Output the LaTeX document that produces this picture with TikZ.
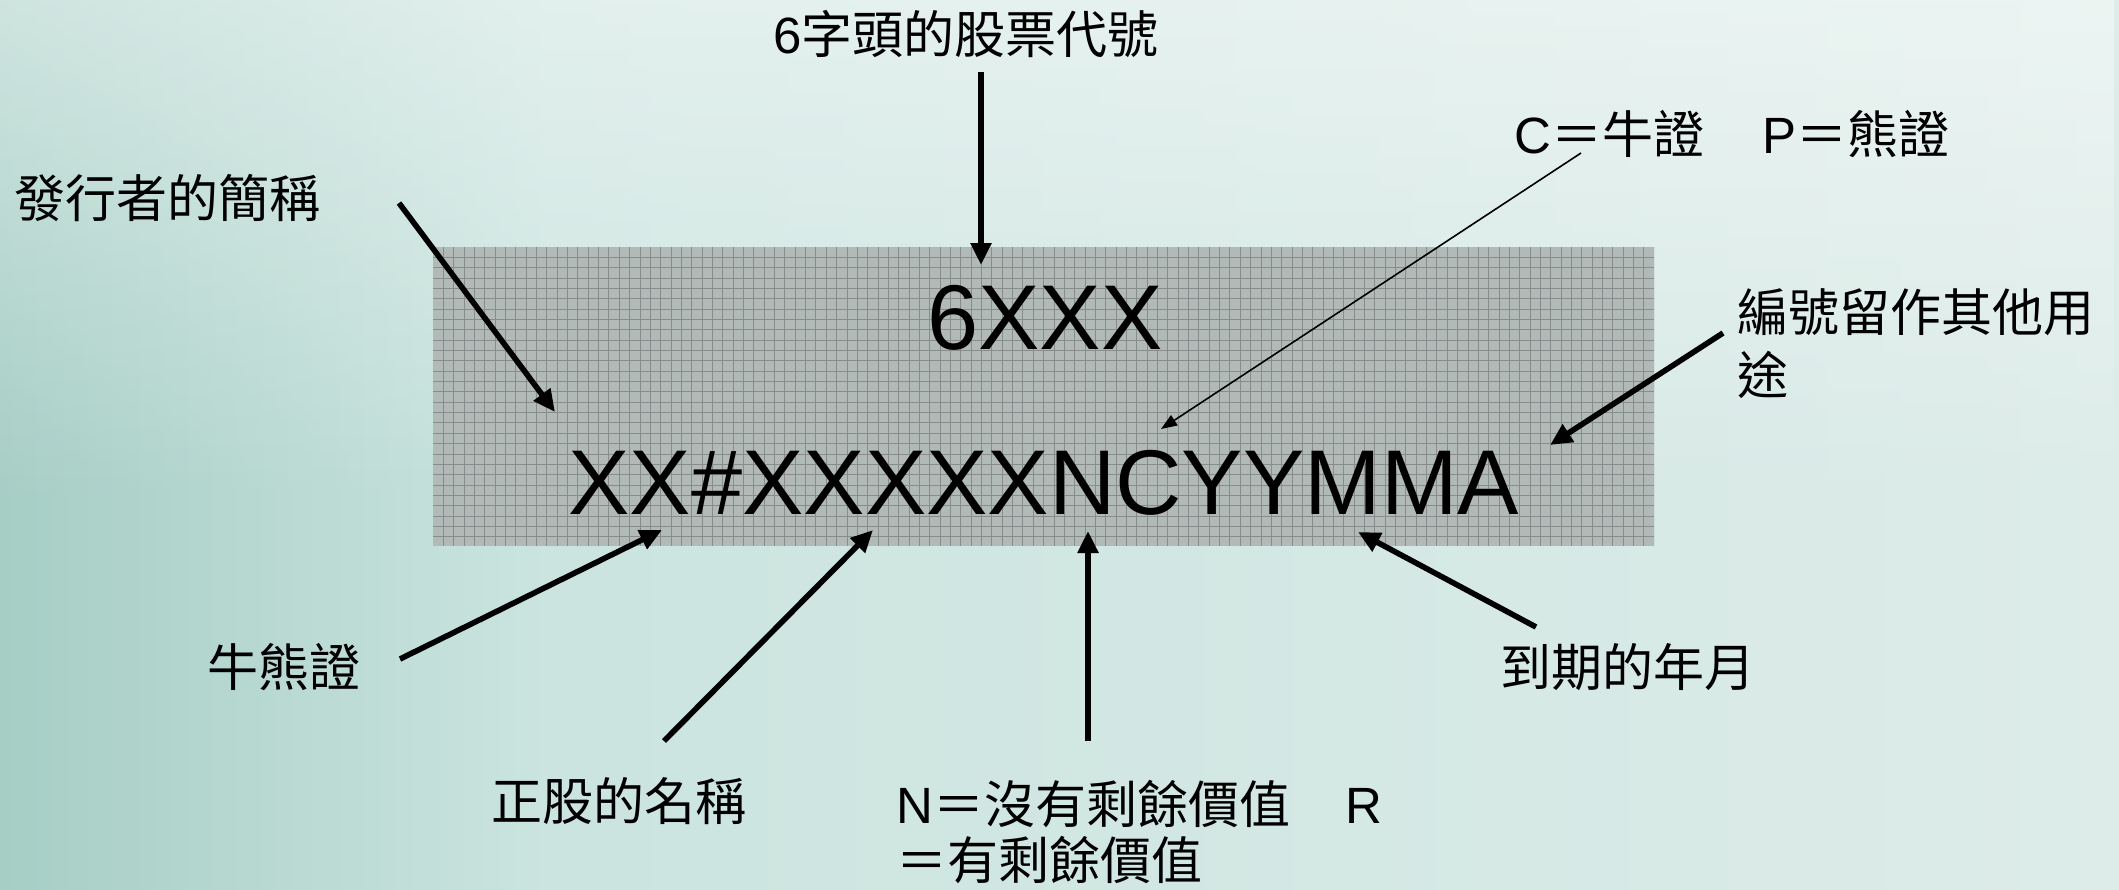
\documentclass[tikz,border=0pt]{standalone}
\usepackage{fontspec}
\setmainfont{Liberation Sans}
\newfontfamily\cjk{Noto Sans CJK TC}
\usetikzlibrary{arrows.meta,fadings}
\definecolor{bgA}{RGB}{166,206,197}
\definecolor{bgB}{RGB}{203,228,223}
\definecolor{bgC}{RGB}{221,236,233}
\definecolor{boxfill}{RGB}{178,186,184}
\definecolor{boxgrid}{RGB}{136,140,140}
\pgfdeclarehorizontalshading{bgshade}{100bp}{color(0bp)=(bgA); color(25bp)=(bgA); color(38bp)=(bgB); color(75bp)=(bgC); color(100bp)=(bgC)}
\tikzset{
  lab/.style={inner sep=0pt, anchor=base west, font=\fontsize{25.5}{31}\selectfont},
  big/.style={inner sep=0pt, anchor=base west, font=\fontsize{46}{50}\selectfont},
  boxst/.style={fill=boxfill, draw=none, inner sep=0pt},
  gridl/.style={draw=boxgrid, line width=0.5pt},
  arr/.style={line width=2.8pt, -{Triangle[length=11pt,width=10pt]}},
  thinarr/.style={line width=0.8pt, -{Triangle[length=8pt,width=6pt]}}
}
\begin{document}
\begin{tikzpicture}[x=0.5pt,y=-0.5pt]
\useasboundingbox (0,0) rectangle (2119,889);
\shade[shading=bgshade] (0,0) rectangle (2119,889);
\fill[white, opacity=0.45, path fading=south] (0,0) rectangle (2119,500);

% box
\node[boxst, minimum width=610.5pt, minimum height=149.5pt] (box) at (1043.5,396.5) {};
\begin{scope}
\clip (433,247) rectangle (1654,546);
\foreach \i in {1,...,118} \draw[gridl] ({433+\i*10.35},247) -- ({433+\i*10.35},546);
\foreach \j in {1,...,29} \draw[gridl] (433,{247+\j*10.35}) -- (1654,{247+\j*10.35});
\end{scope}

% texts in box
\node[big] (top) at (927,349) {6XXX};
\node[big] (code) at (568,514) {XX\#XXXXXNCYYMMA};

% labels
\node[lab] (l6) at (773,53) {6{\cjk 字頭的股票代號}};
\node[lab] (lissuer) at (14,217) {\cjk 發行者的簡稱};
\node[lab] (lcp) at (1514,153) {C{\cjk ＝牛證}\hspace{29pt}P{\cjk ＝熊證}};
\node[lab, align=left, font=\fontsize{25.5}{31.5}\selectfont] (lnum) at (1737,394) {\cjk 編號留作其他用\\\cjk 途};
\node[lab] (lbb) at (207,686) {\cjk 牛熊證};
\node[lab] (lstock) at (491,820) {\cjk 正股的名稱};
\node[lab, align=left, font=\fontsize{25.5}{28}\selectfont] (lnr) at (896,879) {N{\cjk ＝沒有剩餘價值}\hspace{27.7pt}R\\{\cjk ＝有剩餘價值}};
\node[lab] (lexp) at (1500,686) {\cjk 到期的年月};

% arrow end points
\coordinate (t6) at (981,72);    \coordinate (h6) at (981,265);
\coordinate (tis) at (399,203);  \coordinate (his) at (555,412);
\coordinate (tcp) at (1581,153); \coordinate (hcp) at (1161,429);
\coordinate (tnum) at (1723,333); \coordinate (hnum) at (1550,445);
\coordinate (tbb) at (400,659);  \coordinate (hbb) at (662,530);
\coordinate (tst) at (664,741);  \coordinate (hst) at (873,530);
\coordinate (tnr) at (1088,741); \coordinate (hnr) at (1088,531);
\coordinate (tex) at (1536,627); \coordinate (hex) at (1358,532);

\draw[arr] (t6) -- (h6);
\draw[arr] (tis) -- (his);
\draw[thinarr] (tcp) -- (hcp);
\draw[arr] (tnum) -- (hnum);
\draw[arr] (tbb) -- (hbb);
\draw[arr] (tst) -- (hst);
\draw[arr] (tnr) -- (hnr);
\draw[arr] (tex) -- (hex);
\end{tikzpicture}
\end{document}
